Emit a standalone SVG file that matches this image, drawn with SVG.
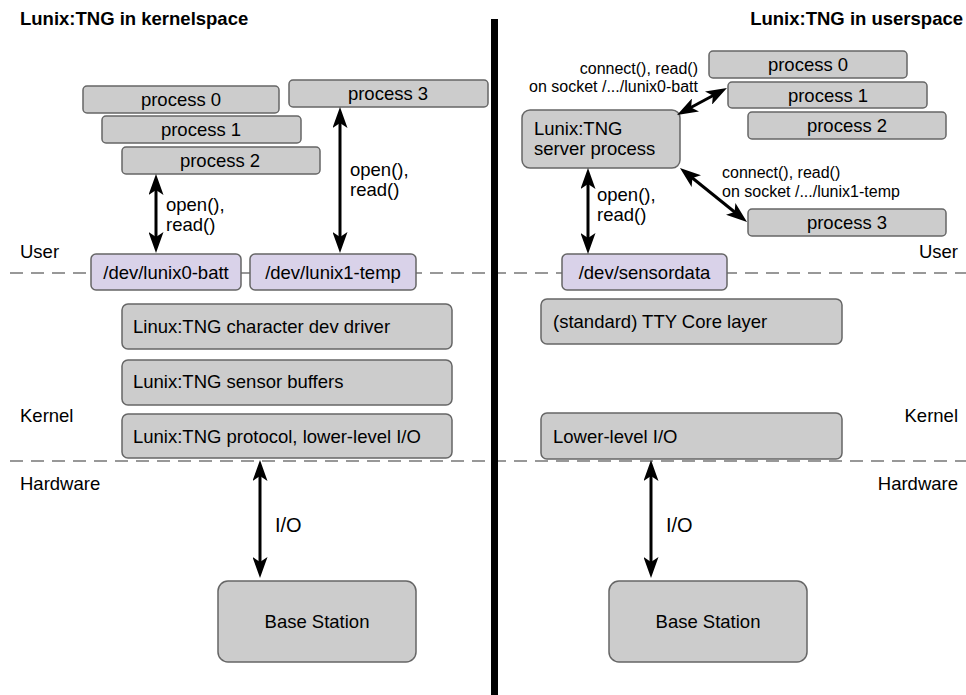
<svg xmlns="http://www.w3.org/2000/svg" width="966" height="695" viewBox="0 0 966 695">
  <style>
    text { font-family: "Liberation Sans", Arial, sans-serif; fill: #000; }
    .title { font-size: 18.5px; font-weight: bold; }
    .lbl { font-size: 18.5px; }
    .io { font-size: 20px; }
    .small { font-size: 16px; }
    .mid { text-anchor: middle; }
    .end { text-anchor: end; }
    .box { fill: #cccccc; stroke: #666666; stroke-width: 1.5; }
    .dev { fill: #d9d2e9; stroke: #666666; stroke-width: 1.5; }
    .sep { stroke: #777777; stroke-width: 1.5; stroke-dasharray: 13 8; fill: none; }
    .arrow { stroke: #000; stroke-width: 3; fill: none; marker-start: url(#head); marker-end: url(#head); }
  </style>
  <defs>
    <marker id="head" viewBox="0 0 21 15" refX="9" refY="7.5" markerWidth="21" markerHeight="15" markerUnits="userSpaceOnUse" orient="auto-start-reverse">
      <path d="M0,0 L21,7.5 L0,15 L5,7.5 z" fill="#000"/>
    </marker>
  </defs>
  <rect width="966" height="695" fill="#ffffff"/>

  <!-- layer separators -->
  <g id="separators">
    <line class="sep" x1="10" y1="273" x2="966" y2="273"/>
    <line class="sep" x1="10" y1="461" x2="966" y2="461"/>
  </g>

  <!-- headings and layer names -->
  <g id="labels">
    <text class="title" x="20" y="25">Lunix:TNG in kernelspace</text>
    <text class="title end" x="963" y="25">Lunix:TNG in userspace</text>
    <text class="lbl" x="20" y="258">User</text>
    <text class="lbl" x="20" y="422">Kernel</text>
    <text class="lbl" x="20" y="490">Hardware</text>
    <text class="lbl end" x="958" y="258">User</text>
    <text class="lbl end" x="958" y="422">Kernel</text>
    <text class="lbl end" x="958" y="490">Hardware</text>
  </g>

  <!-- kernelspace side -->
  <g id="k-proc0"><rect class="box" x="83" y="86" width="196" height="27" rx="4"/><text class="lbl mid" x="181" y="106">process 0</text></g>
  <g id="k-proc1"><rect class="box" x="102" y="116" width="199" height="27" rx="4"/><text class="lbl mid" x="201" y="136">process 1</text></g>
  <g id="k-proc2"><rect class="box" x="122" y="147" width="198" height="27" rx="4"/><text class="lbl mid" x="220" y="167">process 2</text></g>
  <g id="k-proc3"><rect class="box" x="289" y="80" width="199" height="27" rx="4"/><text class="lbl mid" x="388" y="100">process 3</text></g>
  <g id="k-dev0"><rect class="dev" x="91" y="254" width="150" height="36" rx="5"/><text class="lbl mid" x="166" y="278.5">/dev/lunix0-batt</text></g>
  <g id="k-dev1"><rect class="dev" x="250" y="254" width="166" height="36" rx="5"/><text class="lbl mid" x="333" y="278.5">/dev/lunix1-temp</text></g>
  <g id="k-chardev"><rect class="box" x="122" y="304" width="330" height="45" rx="6"/><text class="lbl" x="133" y="333">Linux:TNG character dev driver</text></g>
  <g id="k-buffers"><rect class="box" x="122" y="360" width="330" height="45" rx="6"/><text class="lbl" x="133" y="388">Lunix:TNG sensor buffers</text></g>
  <g id="k-proto"><rect class="box" x="122" y="414" width="330" height="44" rx="6"/><text class="lbl" x="133" y="442.5">Lunix:TNG protocol, lower-level I/O</text></g>
  <g id="k-base"><rect class="box" x="218" y="581" width="198" height="81" rx="10"/><text class="lbl mid" x="317" y="628">Base Station</text></g>

  <!-- userspace side -->
  <g id="u-proc0"><rect class="box" x="709" y="51" width="198" height="27" rx="4"/><text class="lbl mid" x="808" y="71">process 0</text></g>
  <g id="u-proc1"><rect class="box" x="728" y="82" width="199" height="26" rx="4"/><text class="lbl mid" x="828" y="101.5">process 1</text></g>
  <g id="u-proc2"><rect class="box" x="748" y="112" width="198" height="27" rx="4"/><text class="lbl mid" x="847" y="132">process 2</text></g>
  <g id="u-proc3"><rect class="box" x="748" y="209" width="198" height="27" rx="4"/><text class="lbl mid" x="847" y="229">process 3</text></g>
  <g id="u-server"><rect class="box" x="522" y="110" width="158" height="58" rx="8"/><text class="lbl" x="534" y="135">Lunix:TNG</text><text class="lbl" x="534" y="155">server process</text></g>
  <g id="u-dev"><rect class="dev" x="562" y="254" width="165" height="36" rx="5"/><text class="lbl mid" x="644.5" y="278.5">/dev/sensordata</text></g>
  <g id="u-tty"><rect class="box" x="541" y="299" width="301" height="45" rx="6"/><text class="lbl" x="553" y="328">(standard) TTY Core layer</text></g>
  <g id="u-lowio"><rect class="box" x="541" y="413" width="301" height="46" rx="6"/><text class="lbl" x="553" y="443">Lower-level I/O</text></g>
  <g id="u-base"><rect class="box" x="609" y="581" width="198" height="81" rx="10"/><text class="lbl mid" x="708" y="628">Base Station</text></g>

  <!-- connectors -->
  <g id="connectors">
    <line class="arrow" x1="156" y1="186" x2="156" y2="241"/>
    <line class="arrow" x1="340" y1="119" x2="340" y2="241"/>
    <line class="arrow" x1="260" y1="472" x2="260" y2="566"/>
    <line class="arrow" x1="588" y1="180" x2="588" y2="242"/>
    <line class="arrow" x1="687.6" y1="109.3" x2="716.4" y2="93.7"/>
    <line class="arrow" x1="689.3" y1="175.5" x2="737.7" y2="214.5"/>
    <line class="arrow" x1="651" y1="472" x2="651" y2="566"/>
    <text class="lbl" x="166" y="211">open(),</text>
    <text class="lbl" x="166" y="231">read()</text>
    <text class="lbl" x="350" y="176">open(),</text>
    <text class="lbl" x="350" y="196">read()</text>
    <text class="io" x="275" y="532">I/O</text>
    <text class="lbl" x="597" y="201">open(),</text>
    <text class="lbl" x="597" y="221">read()</text>
    <text class="small end" x="698" y="74">connect(), read()</text>
    <text class="small end" x="698" y="92">on socket /.../lunix0-batt</text>
    <text class="small" x="722" y="178">connect(), read()</text>
    <text class="small" x="722" y="197">on socket /.../lunix1-temp</text>
    <text class="io" x="666" y="532">I/O</text>
  </g>

  <!-- divider between the two variants -->
  <g id="divider">
    <rect x="491" y="19" width="7" height="676" fill="#000"/>
  </g>
</svg>
